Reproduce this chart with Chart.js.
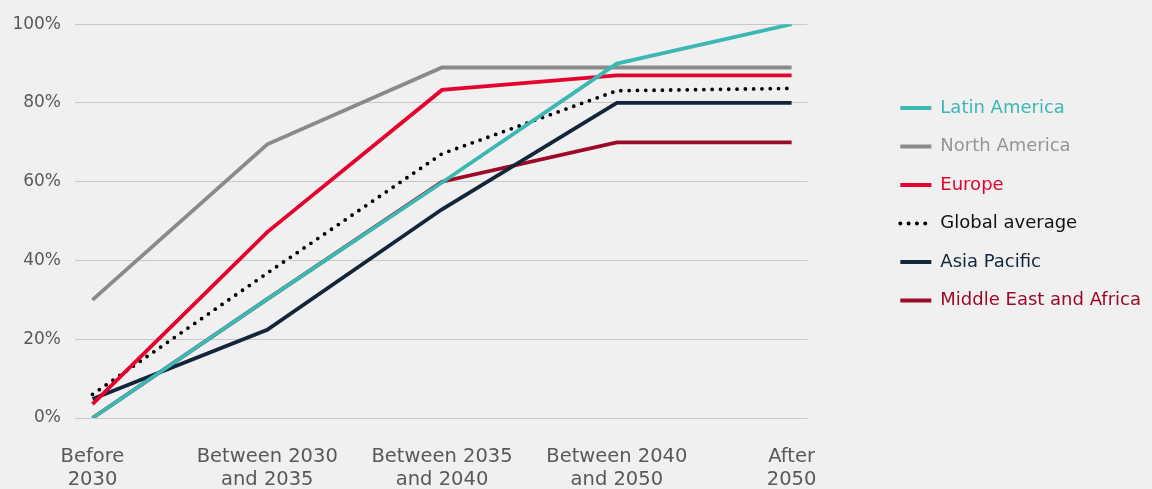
<!DOCTYPE html>
<html>
<head>
<meta charset="utf-8">
<script src="https://cdn.jsdelivr.net/npm/chart.js@4.4.1/dist/chart.umd.min.js"></script>
<style>
  html, body { margin: 0; padding: 0; background: #f0f0f0; }
  #wrap { width: 1152px; height: 489px; position: relative; }
</style>
</head>
<body>
<div id="wrap"><canvas id="adoptionChart"></canvas></div>
<script>
// Categories on the x axis (two-line labels)
const categories = [
    ['Before', '2030'],
    ['Between 2030', 'and 2035'],
    ['Between 2035', 'and 2040'],
    ['Between 2040', 'and 2050'],
    ['After', '2050']
];

// Share of respondents, percent
const latinAmerica     = [0, 30.2, 59.8, 90, 100];
const northAmerica     = [30, 69.5, 89, 89, 89];
const europe           = [3.5, 47.2, 83.3, 87, 87];
const globalAverage    = [6, 36.8, 67.1, 83.1, 83.7];
const asiaPacific      = [4.8, 22.4, 53, 80, 80];
const middleEastAfrica = [0, 30.2, 60, 70, 70];

const yTicks = [0, 20, 40, 60, 80, 100];

const FONT = 'DejaVu Sans';

// turn a value list into {x, y} points on the linear x scale
function toPoints(values) {
    return values.map((v, i) => ({ x: i, y: v }));
}

function makeSeries(label, values, color, textColor, extra) {
    return Object.assign({
        label: label,
        data: toPoints(values),
        borderColor: color,
        backgroundColor: color,
        borderWidth: 3.8,
        pointRadius: 0,
        pointHoverRadius: 0,
        tension: 0,
        fill: false,
        legendText: textColor
    }, extra || {});
}

const datasets = [
    makeSeries('Latin America', latinAmerica, '#3bb8b4', '#3bb8b4'),
    makeSeries('North America', northAmerica, '#8a8a8a', '#959595'),
    makeSeries('Europe', europe, '#e4032e', '#e4032e'),
    makeSeries('Global average', globalAverage, '#000000', '#111111',
        { borderDash: [0, 8.3], borderCapStyle: 'round' }),
    makeSeries('Asia Pacific', asiaPacific, '#13253a', '#13253a'),
    makeSeries('Middle East and Africa', middleEastAfrica, '#9b0b27', '#9b0b27')
];

const ctx = document.getElementById('adoptionChart').getContext('2d');
new Chart(ctx, {
    type: 'line',
    data: { datasets: datasets },
    options: {
        responsive: true,
        maintainAspectRatio: false,
        animation: false,
        layout: { padding: { top: 19.5, right: 1, bottom: 0, left: 0 } },
        plugins: {
            tooltip: { enabled: false },
            legend: {
                position: 'right',
                align: 'start',
                title: { display: true, text: '', font: { size: 12 }, padding: { top: 44.6, bottom: 0 } },
                labels: {
                    usePointStyle: true,
                    pointStyleWidth: 31,
                    padding: 20.5,
                    font: { family: FONT, size: 18 },
                    generateLabels: chart => chart.data.datasets.map((ds, i) => ({
                        text: ds.label,
                        fillStyle: ds.borderColor,
                        strokeStyle: ds.borderColor,
                        fontColor: ds.legendText,
                        lineWidth: 4,
                        lineDash: ds.borderDash || [],
                        lineCap: ds.borderDash ? 'round' : 'butt',
                        pointStyle: 'line',
                        datasetIndex: i
                    }))
                }
            }
        },
        scales: {
            x: {
                type: 'linear',
                min: -0.1,
                max: 4.09,
                afterBuildTicks: scale => {
                    scale.ticks = categories.map((c, i) => ({ value: i }));
                },
                afterFit: scale => { scale.height = 71; },
                grid: { display: false, drawTicks: false },
                border: { display: false },
                ticks: {
                    padding: 27,
                    color: '#595959',
                    maxRotation: 0,
                    autoSkip: false,
                    font: { family: FONT, size: 19.5, lineHeight: 1.18 },
                    callback: value => categories[value]
                }
            },
            y: {
                min: 0,
                max: 100,
                afterBuildTicks: scale => {
                    scale.ticks = yTicks.map(v => ({ value: v }));
                },
                afterFit: scale => { scale.width = 75; },
                grid: { color: '#c8c8c8', lineWidth: 1, drawTicks: false },
                border: { display: false },
                ticks: {
                    padding: 14,
                    color: '#595959',
                    font: { family: FONT, size: 17 },
                    callback: value => value + '%'
                }
            },
            // hidden spacer between plot and legend
            spacer: {
                position: 'right',
                display: false,
                afterFit: scale => { scale.width = 72.5; }
            }
        }
    }
});
</script>
</body>
</html>
